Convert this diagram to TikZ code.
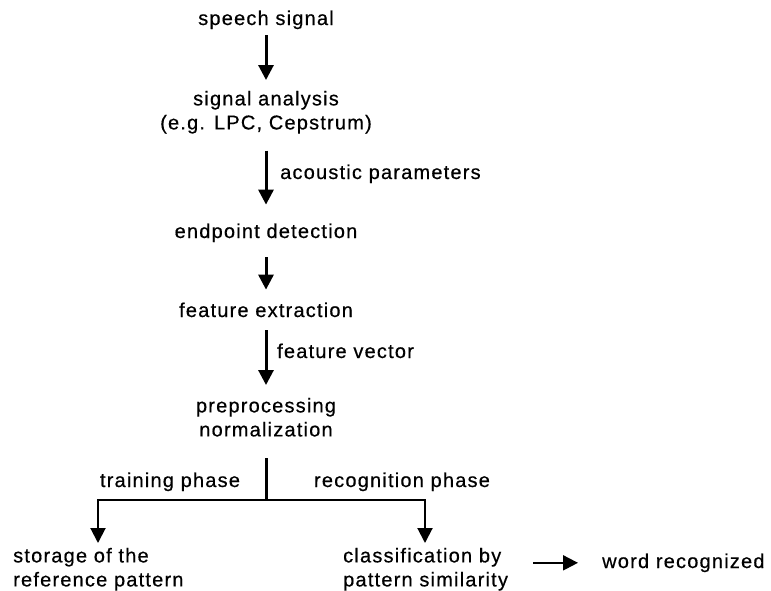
\documentclass[tikz,border=0pt]{standalone}
\usepackage{fontspec}
\setmainfont{Liberation Sans}[LetterSpace=6,FakeBold=0.5]
\usetikzlibrary{arrows.meta}
\begin{document}
\begin{tikzpicture}[x=1pt,y=-1pt,
    every node/.style={font=\fontsize{20}{24}\selectfont,inner sep=0pt},
    flow/.style={line width=3pt,-{Triangle[width=15pt,length=15pt]}},
    branch/.style={line width=2pt,-{Triangle[width=15pt,length=15pt]}},
    bar/.style={line width=2pt}]
  \useasboundingbox (0,0) rectangle (771,590);
  \draw
    (266,25) node[anchor=base] (speech){speech signal}
    (266,90.7) node[anchor=north,align=center] (analysis){signal analysis\\(e.g. LPC, Cepstrum)}
    (280,179) node[anchor=base west] (acoustic){acoustic parameters}
    (266,238) node[anchor=base] (endpoint){endpoint detection}
    (266,317) node[anchor=base] (feature){feature extraction}
    (277,358) node[anchor=base west] (vector){feature vector}
    (266,397.7) node[anchor=north,align=center] (preproc){preprocessing\\normalization}
    (170,487) node[anchor=base] (training){training phase}
    (402,487) node[anchor=base] (recognition){recognition phase}
    (13,547.7) node[anchor=north west,align=left] (storage){storage of the\\reference pattern}
    (343,547.7) node[anchor=north west,align=left] (classif){classification by\\pattern similarity}
    (602,568) node[anchor=base west] (word){word recognized};
  \coordinate (split) at (266,500);
  \coordinate (left) at (98,500);
  \coordinate (right) at (425,500);
  \begin{scope}[flow]
    \draw[shorten <=6pt,shorten >=10.7pt] (speech) to (analysis);
    \draw[shorten <=17pt,shorten >=18.7pt] (analysis) to (endpoint);
    \draw[shorten <=15pt,shorten >=12.7pt] (endpoint) to (feature);
    \draw[shorten <=13pt,shorten >=12.7pt] (feature) to (preproc);
  \end{scope}
  \begin{scope}[branch]
    \draw[shorten >=4.7pt] (left) to (left |- storage.north);
    \draw[shorten >=4.7pt] (right) to (right |- classif.north);
    \draw[shorten <=25pt,shorten >=24pt] (classif.east |- word) to (word.west);
  \end{scope}
  \draw[flow,-,shorten <=21.7pt] (preproc) -- (split);
  \draw[bar,line cap=rect] (left) -- (right);
\end{tikzpicture}
\end{document}
